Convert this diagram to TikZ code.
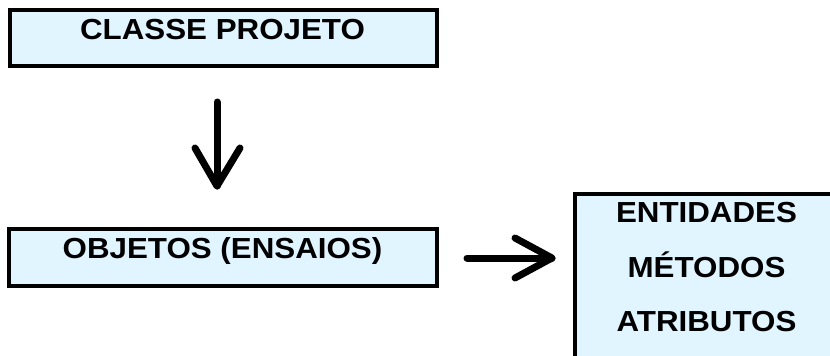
\documentclass[tikz,border=0pt]{standalone}
\usepackage{fontspec}
\setmainfont[FakeStretch=1.08]{Liberation Sans}
\definecolor{boxfill}{RGB}{224,245,255}
\tikzset{
  classbox/.style={draw=black, line width=4pt, fill=boxfill, rectangle, inner sep=0pt},
  label/.style={anchor=base, inner sep=0pt, font=\fontsize{29}{35}\selectfont\bfseries},
  flow/.style={line width=7pt, line cap=round, line join=round}
}
\begin{document}
\begin{tikzpicture}[x=1pt, y=-1pt]
  \useasboundingbox (0,0) rectangle (830,356);
  \clip (0,0) rectangle (830,356);

  % class box
  \node[classbox, minimum width=427pt, minimum height=56pt] (classe) at (223.5,38) {};
  \node[label] (classetxt) at (222.5,39) {CLASSE PROJETO};

  % objects box
  \node[classbox, minimum width=428pt, minimum height=57pt] (objetos) at (223,257.5) {};
  \node[label] (objetostxt) at (222.5,258) {OBJETOS (ENSAIOS)};

  % members box, running off the right and bottom edges
  \node[classbox, minimum width=300pt, minimum height=200pt, anchor=north west] (membros) at (573,192) {};
  \node[label] (entidades) at (706.5,222) {ENTIDADES};
  \node[label] (metodos) at (706.5,277) {MÉTODOS};
  \node[label] (atributos) at (706.5,331) {ATRIBUTOS};

  % downward arrow from class to objects
  \coordinate (dtop) at (217,102);
  \coordinate (dtip) at (217,186);
  \coordinate (dleft) at (195,148);
  \coordinate (dright) at (240,148);
  \draw[flow] (dtop) -- (dtip);
  \draw[flow] (dleft) -- (dtip) -- (dright);

  % arrow from objects to members
  \coordinate (rstart) at (467,258);
  \coordinate (rtip) at (552,258);
  \coordinate (rup) at (515,238);
  \coordinate (rdown) at (515,278);
  \draw[flow] (rstart) -- (rtip);
  \draw[flow] (rup) -- (rtip) -- (rdown);
\end{tikzpicture}
\end{document}
